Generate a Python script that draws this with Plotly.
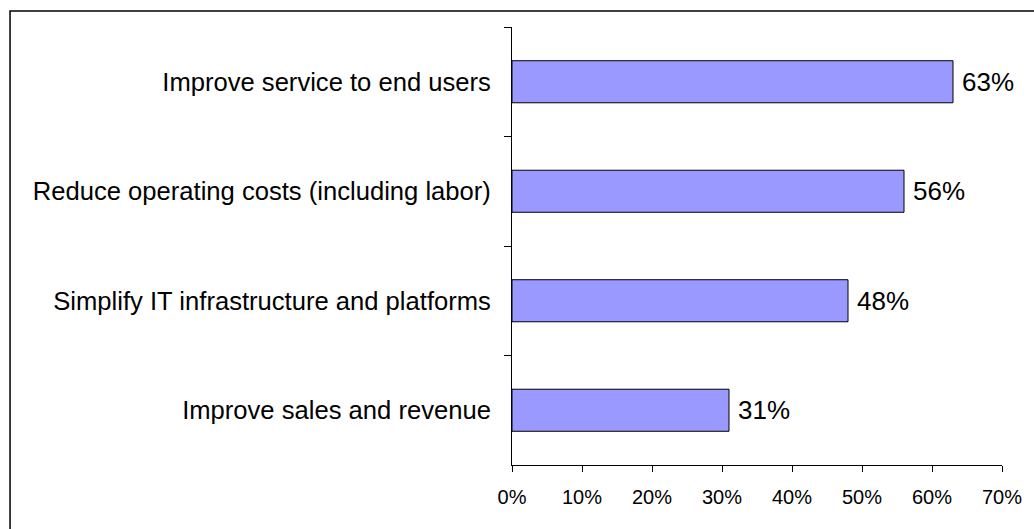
import plotly.graph_objects as go

categories = [
    "Improve service to end users",
    "Reduce operating costs (including labor)",
    "Simplify IT infrastructure and platforms",
    "Improve sales and revenue",
]
values = [63, 56, 48, 31]
x_ticks = [0, 10, 20, 30, 40, 50, 60, 70]
x_tick_labels = [f"{v}%" for v in x_ticks]

FONT = "Arial, Liberation Sans, sans-serif"

fig = go.Figure()
fig.add_trace(go.Bar(
    x=values,
    y=categories,
    orientation="h",
    marker=dict(color="#9999FF", line=dict(color="black", width=1)),
    hoverinfo="skip",
))

for c, v in zip(categories, values):
    fig.add_annotation(
        x=v, y=c, xref="x", yref="y",
        text=f"{v}%", showarrow=False,
        xanchor="left", yanchor="middle", xshift=7,
        font=dict(family=FONT, size=26, color="black"),
    )

fig.update_layout(
    width=1034, height=529,
    margin=dict(l=512, r=30, t=27, b=64),
    paper_bgcolor="white", plot_bgcolor="white",
    bargap=0.616,
    showlegend=False,
    font=dict(family=FONT, color="black"),
    xaxis=dict(
        range=[0, 70],
        tickvals=x_ticks, ticktext=x_tick_labels,
        showgrid=False, zeroline=False,
        showline=True, linecolor="black", linewidth=1,
        ticks="outside", ticklen=6, tickcolor="black",
        ticklabelstandoff=8,
        tickfont=dict(family=FONT, size=20, color="black"),
        fixedrange=True,
    ),
    yaxis=dict(
        categoryorder="array", categoryarray=categories,
        autorange="reversed",
        showgrid=False, zeroline=False,
        showline=True, linecolor="black", linewidth=1,
        ticks="outside", ticklen=7, tickcolor="black",
        tickson="boundaries",
        ticklabelstandoff=15,
        tickfont=dict(family=FONT, size=25.6, color="black"),
        fixedrange=True,
    ),
    shapes=[dict(
        type="rect", xref="paper", yref="paper",
        x0=(8 - 512) / 492, x1=(1045 - 512) / 492,
        y0=(465 - 540) / 438, y1=(465 - 11) / 438,
        line=dict(color="black", width=1.5), fillcolor="rgba(0,0,0,0)",
        layer="below",
    )],
)

fig.write_html("out.html")
